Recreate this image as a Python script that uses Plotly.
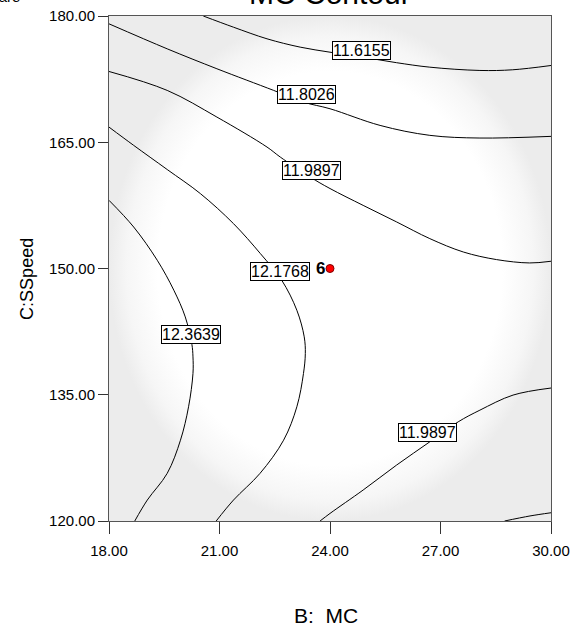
import plotly.graph_objects as go

# ---- data ----
c1_x = [20.56, 21.38, 22.29, 23.19, 24.00, 24.90, 25.81, 26.71, 28.07, 28.96, 30.00]
c1_y = [180.0, 178.67, 177.29, 176.30, 175.70, 175.11, 174.45, 173.92, 173.53, 173.61, 174.12]

c2_x = [18.00, 19.58, 20.93, 22.47, 23.28, 24.00, 25.36, 26.71, 28.07, 30.00]
c2_y = [179.07, 176.10, 173.73, 171.16, 169.77, 168.98, 167.00, 165.82, 165.50, 165.70]

c3_x = [18.00, 19.58, 20.93, 22.29, 22.65, 23.46, 24.00, 24.90, 25.81, 26.71, 27.62, 28.52, 29.42, 30.00]
c3_y = [173.41, 171.16, 167.99, 164.43, 163.24, 160.87, 159.50, 157.50, 155.53, 153.55, 151.96, 151.06, 150.66, 150.86]

c4_x = [18.00, 18.67, 19.58, 20.48, 21.38, 22.11, 22.69, 23.10, 23.30, 23.33, 23.28, 23.10, 22.74, 22.10, 21.38, 20.91]
c4_y = [166.80, 164.63, 161.76, 158.90, 155.33, 151.77, 148.60, 145.04, 141.88, 139.90, 137.53, 133.57, 129.60, 125.66, 122.49, 120.00]

c5_x = [18.00, 18.67, 19.31, 19.76, 20.07, 20.25, 20.28, 20.28, 20.16, 19.94, 19.58, 19.04, 18.70]
c5_y = [158.10, 154.93, 150.98, 147.42, 144.25, 141.00, 139.50, 137.53, 133.57, 129.60, 125.66, 122.49, 120.00]

c6_x = [23.73, 24.00, 24.90, 25.81, 26.71, 27.48, 28.07, 28.97, 30.00]
c6_y = [120.00, 120.90, 123.68, 126.65, 129.41, 131.78, 133.17, 134.96, 135.80]

c7_x = [28.74, 29.43, 30.00]
c7_y = [120.00, 120.60, 120.98]

label_text = ["11.6155", "11.8026", "11.9897", "12.1768", "12.3639", "11.9897"]
label_x = [24.86, 23.37, 23.49, 22.65, 20.22, 26.66]
label_y = [175.96, 170.66, 161.66, 149.67, 142.20, 130.56]

design_x = [24.0]
design_y = [150.0]
design_label = ["6"]

x_ticks = [18, 21, 24, 27, 30]
y_ticks = [120, 135, 150, 165, 180]

FONT = "Liberation Sans, Arial, sans-serif"

fig = go.Figure()

# background vignette
fig.add_trace(go.Scatter(
    x=[x_ticks[0], x_ticks[-1], x_ticks[-1], x_ticks[0], x_ticks[0]],
    y=[y_ticks[0], y_ticks[0], y_ticks[-1], y_ticks[-1], y_ticks[0]],
    mode="lines", line=dict(width=0), fill="toself",
    fillgradient=dict(type="radial",
                      colorscale=[[0, "#ffffff"], [0.78, "#ffffff"],
                                  [0.92, "#f6f6f6"], [1, "#ececec"]]),
    hoverinfo="skip", showlegend=False))

for cx, cy in [(c1_x, c1_y), (c2_x, c2_y), (c3_x, c3_y), (c4_x, c4_y),
               (c5_x, c5_y), (c6_x, c6_y), (c7_x, c7_y)]:
    fig.add_trace(go.Scatter(x=cx, y=cy, mode="lines",
                             line=dict(color="black", width=1, shape="spline"),
                             showlegend=False, hoverinfo="skip"))

fig.add_trace(go.Scatter(x=design_x, y=design_y, mode="markers",
                         marker=dict(color="#ff0000", size=8,
                                     line=dict(color="#800000", width=1)),
                         showlegend=False))

for t, lx, ly in zip(label_text, label_x, label_y):
    fig.add_annotation(x=lx, y=ly, text=t, showarrow=False,
                       font=dict(family=FONT, size=16, color="black"),
                       bgcolor="white", bordercolor="black", borderwidth=1,
                       borderpad=0)

for t, px, py in zip(design_label, design_x, design_y):
    fig.add_annotation(x=px, y=py, text="<b>" + t + "</b>", showarrow=False,
                       xanchor="right", xshift=-3,
                       font=dict(family=FONT, size=17, color="black"))

# title and cut-off header text
fig.add_annotation(xref="paper", yref="paper", x=0.5, y=1, yanchor="middle",
                   yshift=23, text="MC Contour", showarrow=False,
                   font=dict(family=FONT, size=30, color="black"))
fig.add_annotation(xref="paper", yref="paper", x=-0.197, y=1, xanchor="right",
                   yanchor="middle", yshift=20, text="Design-Expert® Software",
                   showarrow=False, font=dict(family=FONT, size=15, color="black"))

# axis titles
fig.add_annotation(xref="paper", yref="paper", x=0.49, y=-0.188, yanchor="middle",
                   xanchor="center", text="B:  MC", showarrow=False,
                   font=dict(family=FONT, size=21, color="black"))
fig.add_annotation(xref="paper", yref="paper", x=-0.186, y=0.479,
                   xanchor="center", yanchor="middle",
                   textangle=-90, text="C:SSpeed", showarrow=False,
                   font=dict(family=FONT, size=18, color="black"))

fig.update_xaxes(range=[18, 30], tickvals=x_ticks, tickformat=".2f",
                 ticks="outside", ticklen=12, tickcolor="#333", tickwidth=1,
                 ticklabelstandoff=4, automargin=False,
                 showline=True, linecolor="#555", linewidth=1, mirror=True,
                 showgrid=False, zeroline=False,
                 tickfont=dict(family=FONT, size=15, color="black"))
fig.update_yaxes(range=[120, 180], tickvals=y_ticks, tickformat=".2f",
                 ticks="outside", ticklen=10, tickcolor="#333", tickwidth=1,
                 automargin=False,
                 showline=True, linecolor="#555", linewidth=1, mirror=True,
                 showgrid=False, zeroline=False,
                 tickfont=dict(family=FONT, size=15, color="black"))

fig.update_layout(width=574, height=633, autosize=False,
                  margin=dict(l=108.5, r=23, t=15.5, b=112, autoexpand=False),
                  paper_bgcolor="white", plot_bgcolor="white",
                  showlegend=False)

fig.write_html("out.html",
               config={"responsive": False, "displayModeBar": False},
               post_script="document.body.style.margin='0';"
                           "document.body.style.overflow='hidden';")
